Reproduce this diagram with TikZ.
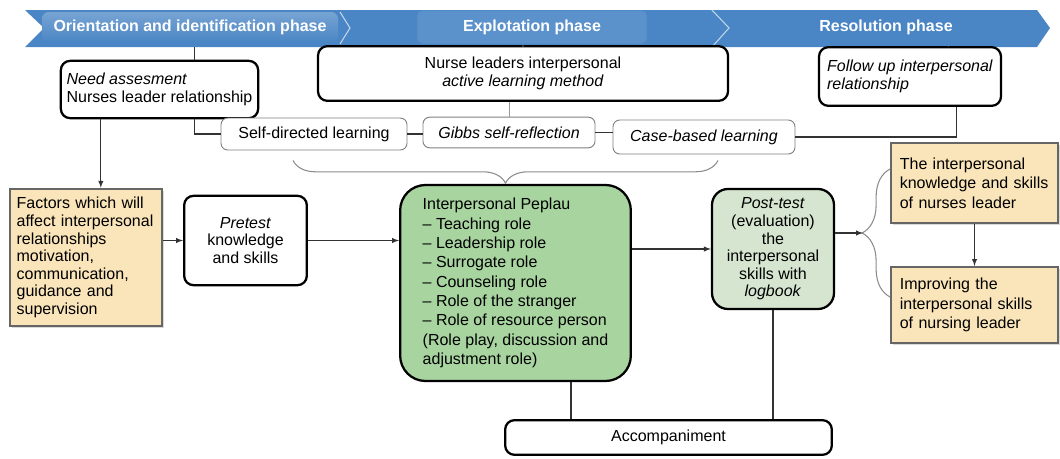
\documentclass[tikz,border=0pt]{standalone}
\usepackage{fontspec}
\setmainfont{Liberation Sans}
\usetikzlibrary{positioning,decorations.pathreplacing,shadows}
\definecolor{barblue}{RGB}{74,134,197}
\definecolor{factortan}{RGB}{249,229,185}
\definecolor{peplaugreen}{RGB}{168,212,160}
\definecolor{postgreen}{RGB}{214,229,208}

\begin{document}
\begin{tikzpicture}[x=0.75pt, y=-0.75pt, >=latex,
        every node/.style={font=\fontsize{12}{14}\selectfont},
        stage/.style={rectangle, draw, line width=1.7pt, rounded corners=7pt, fill=white},
        method/.style={rectangle, draw=black!50, line width=0.7pt, rounded corners=5pt, fill=white},
        factor/.style={rectangle, draw=black!60, line width=1.6pt, fill=factortan, align=left, inner xsep=5pt,
            drop shadow={shadow xshift=1.5pt, shadow yshift=-1.5pt, opacity=0.3}},
        phase/.style={text=white, font=\fontsize{12}{14}\selectfont\bfseries},
        link/.style={draw=black!80, line width=0.8pt}]
        \useasboundingbox (0,0) rectangle (1060,458);

        % phase bar
        \fill[barblue] (25,10) -- (1037,10) -- (1050,28) -- (1037,47) -- (25,47) -- (44,28) -- cycle;
        \coordinate (bar) at (0,47);
        \node[phase, top color=barblue!75!white, bottom color=barblue, rounded corners=5pt, minimum width=222pt, minimum height=22.5pt] (orient) at (190,27) {Orientation and identification phase};
        \node[phase, fill=barblue!90!white, rounded corners=4pt, minimum width=172pt, minimum height=24.75pt] (exploit) at (532,27) {Explotation phase};
        \node[phase] (resol) at (886,27) {Resolution phase};
        \draw[white!65!barblue, line width=0.8pt] (340,12) -- (350,28) -- (340,44);
        \draw[white!65!barblue, line width=0.8pt] (712,10) -- (729,28) -- (712,47);

        % phase boxes
        \node[stage, align=left, minimum width=148pt, minimum height=43pt] (need) at (159.5,89.5) {\textit{Need assesment}\\Nurses leader relationship};
        \node[stage, align=center, minimum width=307.5pt, minimum height=41pt] (nurse) at (523,73.5) {Nurse leaders interpersonal\\\textit{active learning method}};
        \node[stage, align=left, minimum width=136.5pt, minimum height=44pt] (follow) at (910,76.5) {\textit{Follow up interpersonal}\\\textit{relationship}};

        % learning methods
        \node[method, minimum width=139.5pt, minimum height=24pt] (self) at (314,134) {Self-directed learning};
        \node[method, minimum width=129pt, minimum height=23pt] (gibbs) at (509,132.5) {\textit{Gibbs self-reflection}};
        \node[method, minimum width=136.5pt, minimum height=25.5pt] (case) at (704,137) {\textit{Case-based learning}};

        % main flow
        \node[factor, text width=104pt, minimum height=103pt, font=\fontsize{12}{13.2}\selectfont] (factors) at (86,257.5) {Factors which will\\affect interpersonal\\relationships\\motivation,\\communication,\\guidance and\\supervision};
        \node[stage, align=center, minimum width=92pt, minimum height=67pt, font=\fontsize{12}{13.2}\selectfont] (pretest) at (245.5,240.5) {\textit{Pretest}\\knowledge\\and skills};
        \node[stage, fill=peplaugreen, rounded corners=19pt, align=left, minimum width=173pt, minimum height=147pt, font=\fontsize{12}{14.5}\selectfont] (peplau) at (515.5,283) {Interpersonal Peplau\\– Teaching role\\– Leadership role\\– Surrogate role\\– Counseling role\\– Role of the stranger\\– Role of resource person\\(Role play, discussion and\\adjustment role)};
        \node[stage, fill=postgreen, rounded corners=12pt, align=center, minimum width=91.5pt, minimum height=90pt, font=\fontsize{12}{13.2}\selectfont] (post) at (773,249) {\textit{Post-test}\\(evaluation)\\the\\interpersonal\\skills with\\\textit{logbook}};
        \node[factor, text width=112pt, inner xsep=6.5pt, minimum height=60pt, font=\fontsize{12}{14.5}\selectfont] (knowledge) at (974.5,183) {The interpersonal\\knowledge and skills\\of nurses leader};
        \node[factor, text width=112pt, inner xsep=6.5pt, minimum height=57pt, font=\fontsize{12}{14.5}\selectfont] (improve) at (974.5,305) {Improving the\\interpersonal skills\\of nursing leader};
        \node[stage, minimum width=245pt, minimum height=26pt] (accomp) at (668.5,437.5) {Accompaniment};

        % connectors
        \draw[link] ([xshift=26pt]need.north) -- ([xshift=26pt]need.north |- bar);
        \draw[link] (nurse.north) -- (nurse.north |- bar);
        \draw[link] ([xshift=29pt]follow.north) -- ([xshift=29pt]follow.north |- bar);
        \draw[link] ([xshift=26pt]need.south) |- (self.west);
        \draw[link] (self.east) -- (self.east -| gibbs.west);
        \draw[link] (gibbs.east) -- (gibbs.east -| case.west);
        \draw[link] (case.east) -| ([xshift=35pt]follow.south);
        \draw[draw=black!40, line width=0.6pt] (gibbs.north) -- (gibbs.north |- nurse.south);
        \draw[decorate, decoration={brace, mirror, amplitude=17pt}, draw=black!45, line width=0.8pt] ([shift={(-21,10)}]self.south) -- ([shift={(14,6)}]case.south);
        \draw[decorate, decoration={brace, amplitude=21pt}, draw=black!45, line width=0.8pt] ([shift={(0,-8)}]improve.west) -- ([shift={(0,-14)}]knowledge.west);
        \coordinate (tip) at (863,233);

        \draw[link, ->] ([xshift=-44pt]need.south) -- ([xshift=-44pt]need.south |- factors.north);
        \draw[link, ->] (factors.east |- pretest.west) -- (pretest.west);
        \draw[link, ->] (pretest.east) -- (pretest.east -| peplau.west);
        \draw[link, ->] (peplau.east |- post.west) -- (post.west);
        \draw[link, ->] (post.east |- tip) -- (tip);
        \draw[link, ->] (knowledge.south) -- (improve.north);
        \draw[link] ([xshift=41.6pt]peplau.south) -- ([xshift=41.6pt]peplau.south |- accomp.north);
        \draw[link] (post.south) -- (post.south |- accomp.north);
    \end{tikzpicture}
\end{document}
